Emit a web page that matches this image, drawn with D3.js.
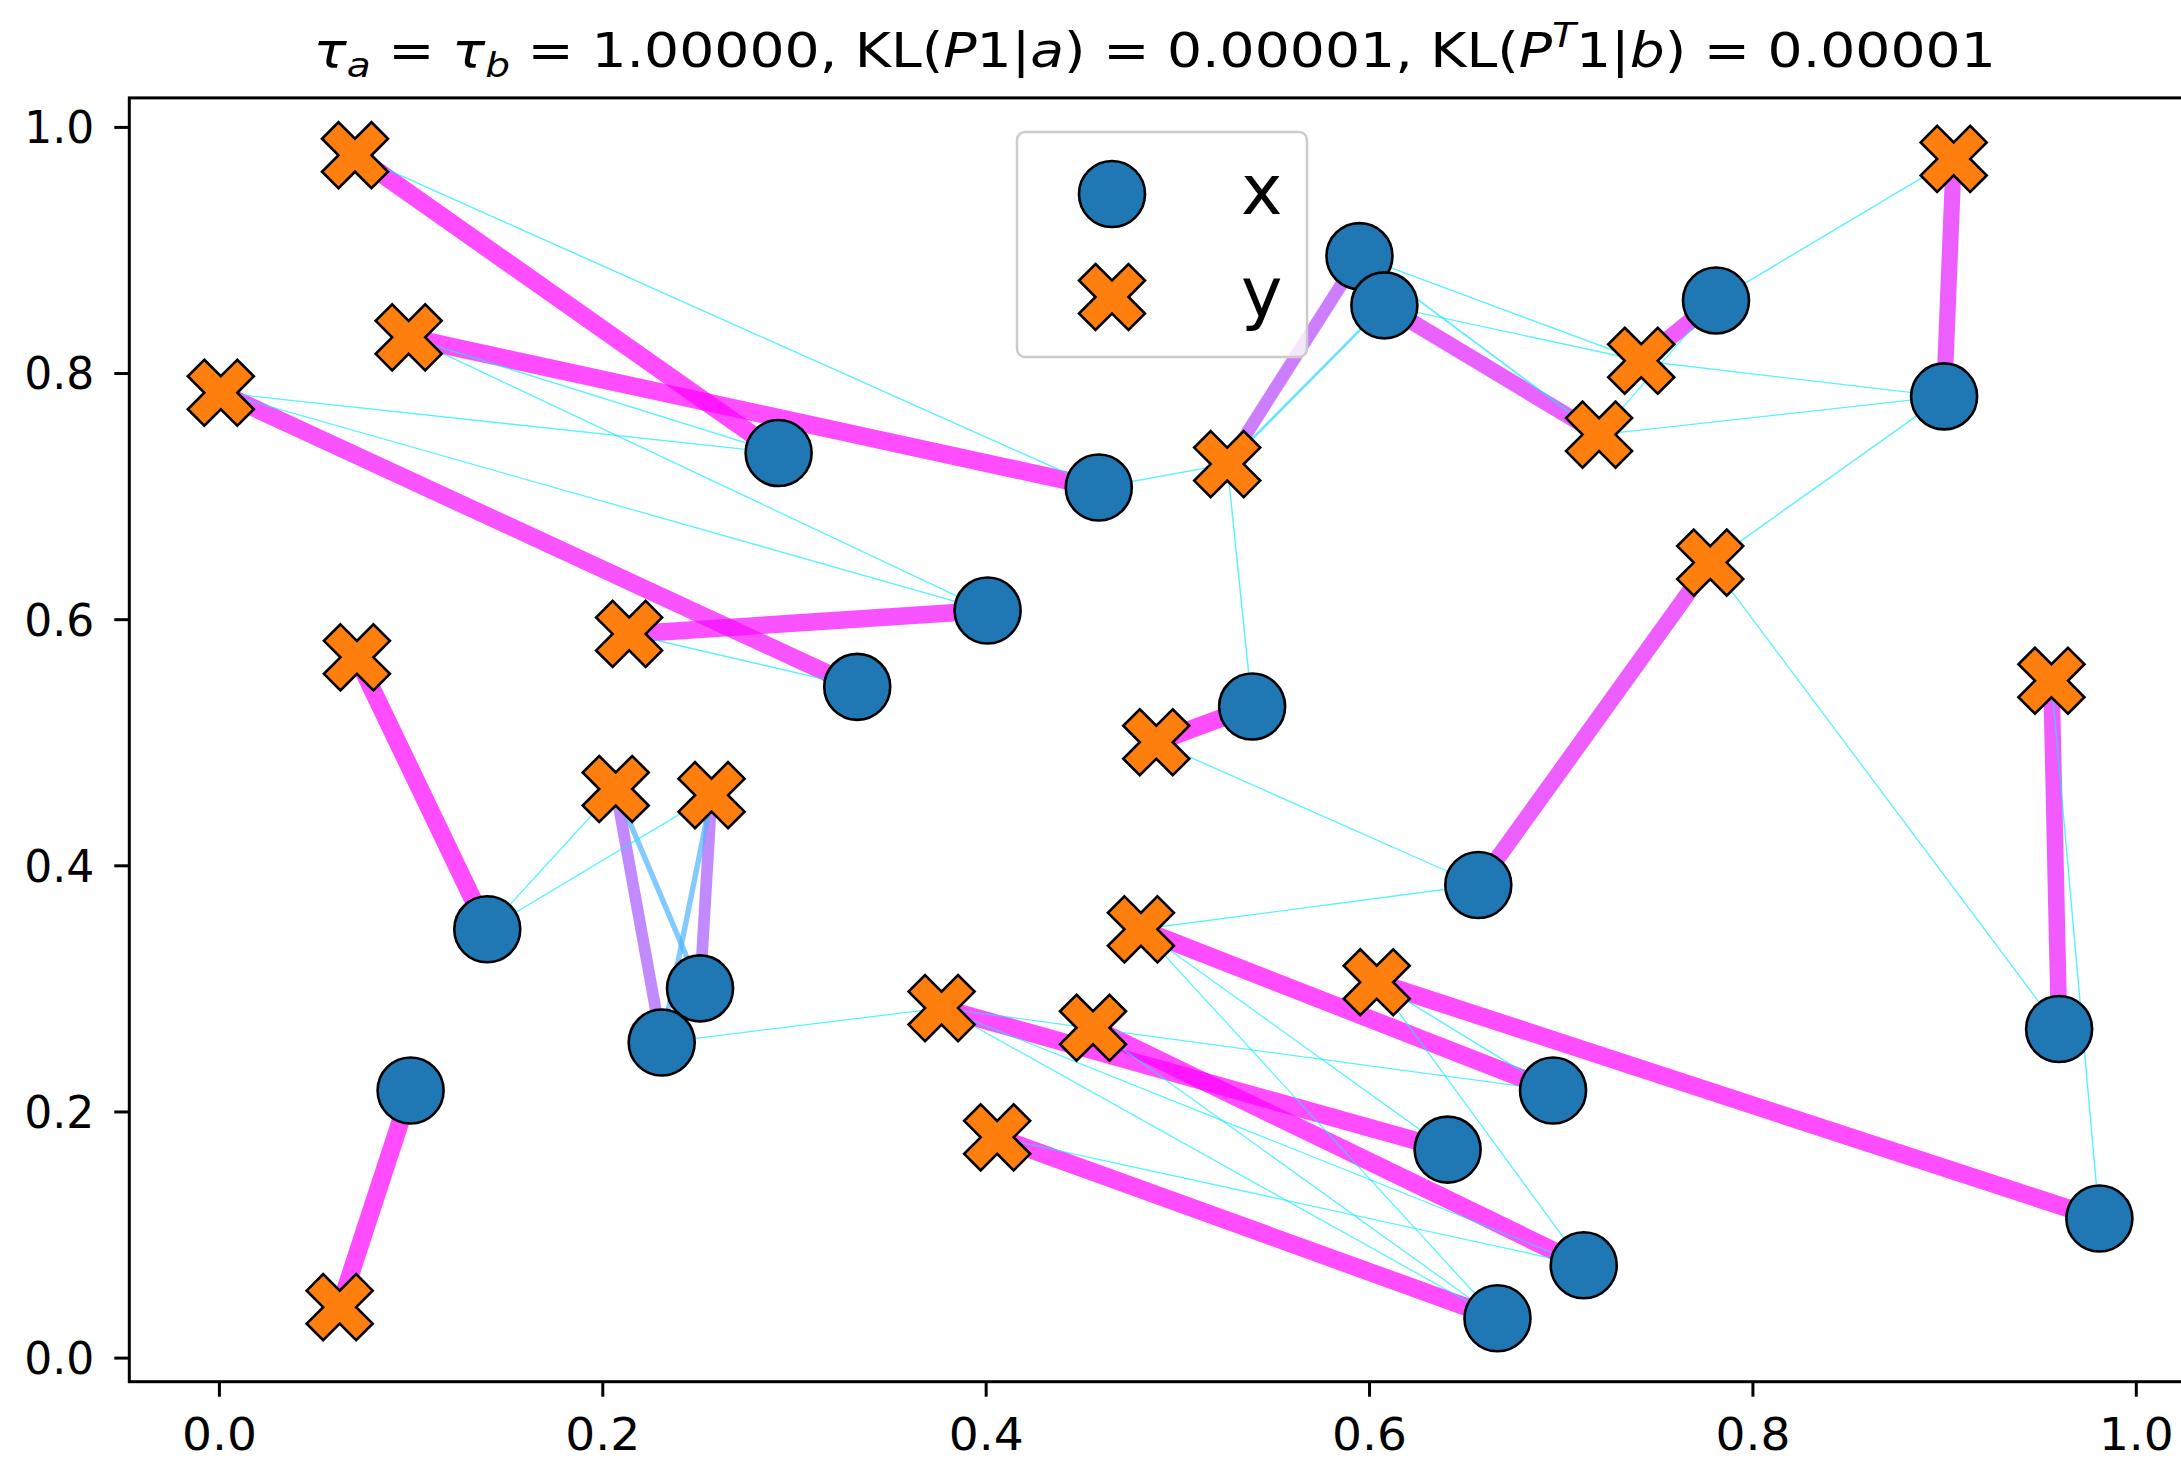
<!DOCTYPE html>
<html>
<head>
<meta charset="utf-8">
<script src="https://cdn.jsdelivr.net/npm/d3@7"></script>
<style>
  html, body { margin: 0; padding: 0; background: #fff; overflow: hidden; }
  svg { display: block; }
  text { font-family: "DejaVu Sans", sans-serif; fill: #000; }
</style>
</head>
<body>
<script>
// Source points x (drawn as circles)
const xPointsX = [0.292, 0.459, 0.401, 0.333, 0.140, 0.251, 0.231, 0.100, 0.595, 0.608,
                  0.781, 0.900, 0.539, 0.657, 0.960, 0.696, 0.641, 0.712, 0.981, 0.667];
const xPointsY = [0.735, 0.707, 0.607, 0.545, 0.348, 0.300, 0.256, 0.217, 0.895, 0.855,
                  0.859, 0.781, 0.529, 0.384, 0.267, 0.217, 0.169, 0.075, 0.113, 0.032];

// Target points y (drawn as filled crosses)
const yPointsX = [0.071, 0.099, 0.001, 0.214, 0.072, 0.207, 0.257, 0.063, 0.526, 0.489,
                  0.742, 0.720, 0.905, 0.778, 0.956, 0.481, 0.604, 0.377, 0.456, 0.406];
const yPointsY = [0.977, 0.829, 0.784, 0.588, 0.569, 0.462, 0.457, 0.041, 0.726, 0.500,
                  0.810, 0.750, 0.974, 0.646, 0.550, 0.348, 0.305, 0.284, 0.268, 0.179];

// Transport plan entries (normalised by the largest entry): x index, y index, weight
const planFrom   = [0, 1, 3, 2, 4, 7, 6, 5, 5, 6, 8, 12, 10, 9, 11, 13, 14, 15, 18, 16, 17, 19,
                    1, 0, 2, 0, 2, 3, 4, 4, 6, 1, 9, 12, 13, 8, 9, 8, 10, 11, 11, 10, 11, 14, 18,
                    13, 16, 15, 17, 19, 15, 17, 19, 17, 19];
const planTo     = [0, 1, 2, 3, 4, 7, 5, 6, 5, 6, 8, 9, 10, 11, 12, 13, 14, 15, 16, 17, 18, 19,
                    0, 1, 1, 2, 2, 3, 5, 6, 17, 8, 8, 8, 9, 10, 10, 11, 11, 10, 11, 12, 13, 13, 14,
                    15, 15, 16, 16, 17, 17, 17, 18, 19, 15];
const planWeight = [1.00, 1.00, 0.97, 0.97, 1.00, 1.00, 0.65, 0.65, 0.30, 0.30, 0.72, 1.00, 0.92, 0.88,
                    0.90, 0.90, 0.92, 1.00, 1.00, 1.00, 1.00, 1.00,
                    0.08, 0.08, 0.07, 0.07, 0.07, 0.08, 0.06, 0.06, 0.06, 0.08, 0.15, 0.08, 0.07,
                    0.08, 0.08, 0.10, 0.06, 0.07, 0.07, 0.08, 0.08, 0.07, 0.08,
                    0.08, 0.06, 0.08, 0.07, 0.07, 0.07, 0.06, 0.07, 0.07, 0.05];

const xTicks = [0.0, 0.2, 0.4, 0.6, 0.8, 1.0];
const yTicks = [0.0, 0.2, 0.4, 0.6, 0.8, 1.0];
const legendLabels = ["x", "y"];

const W = 2181, H = 1461;
const frame = { left: 129.3, right: 2183, top: 97.9, bottom: 1381.7 };
const sx = d3.scaleLinear().domain([0, 1]).range([218.9, 2135.8]);
const sy = d3.scaleLinear().domain([0, 1]).range([1357.6, 126.9]);

const MARKER = 66;        // marker size in px
const EDGE = 2.6;         // marker edge width
const LW_MAX = 18;        // line width of the heaviest plan entry
const TITLE_WIDEN = 1.15; // horizontal stretch of the title glyphs
const XTICK_WIDEN = 1.07; // horizontal stretch of the x tick labels
const xColor = "#1f77b4", yColor = "#ff7f0e";

// matplotlib "cool" colormap: cyan -> magenta
const cool = t => d3.rgb(255 * t, 255 * (1 - t), 255).formatHex();

// Filled X marker outline (same geometry as matplotlib's 'X')
const xVerts = [[-1,-2],[0,-1],[1,-2],[2,-1],[1,0],[2,1],[1,2],[0,1],[-1,2],[-2,1],[-1,0],[-2,-1]];
const xMarkerPath = s => "M" + xVerts.map(([a, b]) => [a * s / 4, b * s / 4].join(",")).join("L") + "Z";

const svg = d3.select("body").append("svg")
  .attr("width", W).attr("height", H)
  .attr("viewBox", `0 0 ${W} ${H}`);

svg.append("rect").attr("width", W).attr("height", H).attr("fill", "#fff");

// Plan lines
const plan = planFrom.map((i, k) => ({ i, j: planTo[k], w: planWeight[k] }));
svg.append("g").attr("class", "plan")
  .selectAll("line").data(plan).join("line")
  .attr("x1", d => sx(xPointsX[d.i])).attr("y1", d => sy(xPointsY[d.i]))
  .attr("x2", d => sx(yPointsX[d.j])).attr("y2", d => sy(yPointsY[d.j]))
  .attr("stroke", d => cool(d.w))
  .attr("stroke-opacity", 0.7)
  .attr("stroke-width", d => Math.max(d.w * LW_MAX, 1.3))
  .attr("stroke-linecap", "butt");

// Source points
svg.append("g").attr("class", "xpts")
  .selectAll("circle").data(xPointsX).join("circle")
  .attr("cx", d => sx(d)).attr("cy", (d, k) => sy(xPointsY[k]))
  .attr("r", MARKER / 2)
  .attr("fill", xColor).attr("stroke", "#000").attr("stroke-width", EDGE);

// Target points
svg.append("g").attr("class", "ypts")
  .selectAll("path").data(yPointsX).join("path")
  .attr("transform", (d, k) => `translate(${sx(d)},${sy(yPointsY[k])})`)
  .attr("d", xMarkerPath(MARKER))
  .attr("fill", yColor).attr("stroke", "#000").attr("stroke-width", EDGE)
  .attr("stroke-linejoin", "miter");

// Axes frame
svg.append("rect")
  .attr("x", frame.left).attr("y", frame.top)
  .attr("width", frame.right - frame.left).attr("height", frame.bottom - frame.top)
  .attr("fill", "none").attr("stroke", "#000").attr("stroke-width", 3);

const fmt = d3.format(".1f");
const gx = svg.append("g").attr("transform", `translate(0,${frame.bottom})`)
  .call(d3.axisBottom(sx).tickValues(xTicks).tickFormat(fmt).tickSize(15).tickSizeOuter(0));
gx.select(".domain").remove();
gx.selectAll(".tick line").attr("stroke", "#000").attr("stroke-width", 3);
gx.selectAll(".tick text").attr("y", null).attr("dy", null)
  .attr("transform", `translate(0,68) scale(${XTICK_WIDEN},1)`)
  .attr("font-size", 44).attr("font-family", "DejaVu Sans").attr("fill", "#000");

const gy = svg.append("g").attr("transform", `translate(${frame.left},0)`)
  .call(d3.axisLeft(sy).tickValues(yTicks).tickFormat(fmt).tickSize(15).tickSizeOuter(0));
gy.select(".domain").remove();
gy.selectAll(".tick line").attr("stroke", "#000").attr("stroke-width", 3);
gy.selectAll(".tick text").attr("x", -35).attr("dy", "0.36em")
  .attr("font-size", 44).attr("font-family", "DejaVu Sans").attr("fill", "#000");

// Title with math-style runs
const title = svg.append("text")
  .attr("transform", `translate(${(frame.left + 2180) / 2},67) scale(${TITLE_WIDEN},1)`)
  .attr("text-anchor", "middle").attr("font-size", 48);
const runs = [
  ["τ", "i"], ["a", "sub"], [" = ", ""], ["τ", "i"], ["b", "sub"],
  [" = 1.00000, KL(", ""], ["P", "i"], ["1|", ""], ["a", "i"], [") = 0.00001, KL(", ""],
  ["P", "i"], ["T", "sup"], ["1|", ""], ["b", "i"], [") = 0.00001", ""]
];
let shift = 0;
runs.forEach(([t, kind]) => {
  const ts = title.append("tspan").text(t);
  let target = 0;
  if (kind === "sub") target = 10;
  if (kind === "sup") target = -20;
  ts.attr("dy", target - shift);
  shift = target;
  if (kind) ts.attr("font-style", "italic");
  if (kind === "sub" || kind === "sup") ts.attr("font-size", 34);
});

// Legend
const lg = svg.append("g").attr("class", "legend");
lg.append("rect")
  .attr("x", 1017).attr("y", 132).attr("width", 290).attr("height", 225)
  .attr("rx", 8).attr("ry", 8)
  .attr("fill", "#fff").attr("fill-opacity", 0.8)
  .attr("stroke", "#cccccc").attr("stroke-width", 2.5);
const rowY = [194, 297];
lg.append("circle").attr("cx", 1112).attr("cy", rowY[0]).attr("r", MARKER / 2)
  .attr("fill", xColor).attr("stroke", "#000").attr("stroke-width", EDGE);
lg.append("path").attr("transform", `translate(1112,${rowY[1]})`).attr("d", xMarkerPath(MARKER))
  .attr("fill", yColor).attr("stroke", "#000").attr("stroke-width", EDGE);
lg.selectAll("text.lab").data(legendLabels).join("text").attr("class", "lab")
  .attr("x", 1241).attr("y", (d, k) => rowY[k] + 20)
  .attr("font-size", 70)
  .text(d => d);
</script>
</body>
</html>
